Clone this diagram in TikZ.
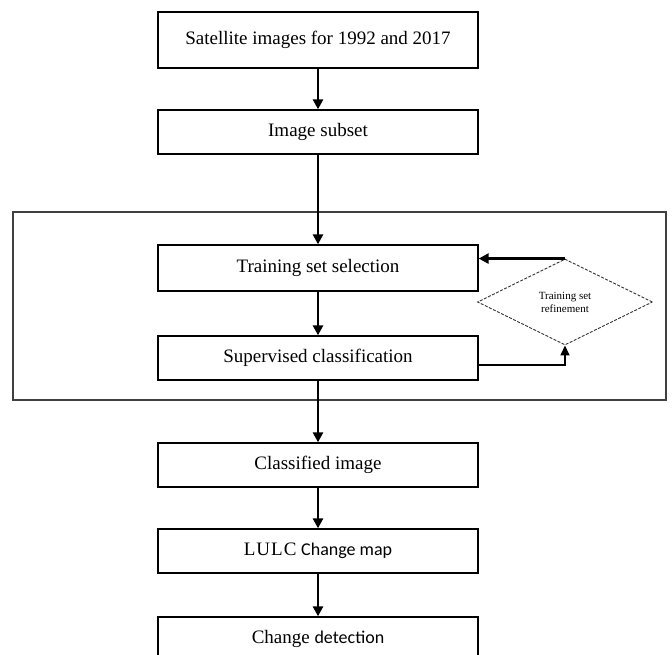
\documentclass[tikz,border=0pt]{standalone}
\usepackage{fontspec}
\setmainfont{Liberation Serif}
\newfontfamily\calibri{Carlito}
\usetikzlibrary{arrows.meta,shapes.geometric}
\tikzset{
  stepbox/.style={draw=black, line width=1.3pt, rectangle, minimum width=320pt, inner sep=0pt, font=\fontsize{19}{22}\selectfont},
  arr/.style={line width=2.5pt, -{Triangle[length=10pt,width=10pt]}},
  framebox/.style={draw=black!75, line width=1.4pt, rectangle, inner sep=0pt},
  decision/.style={diamond, draw=black!80, dashed, dash pattern=on 3pt off 1.5pt, line width=0.9pt, inner sep=0pt, minimum width=175pt, minimum height=86pt, align=center, font=\fontsize{11}{13}\selectfont}
}
\begin{document}
\begin{tikzpicture}[x=1pt,y=-1pt]
\useasboundingbox (0,0) rectangle (672,654);
\clip (0,0) rectangle (672,654);
\node[framebox, minimum width=653pt, minimum height=188pt] (frame) at (339.5,306) {};
\node[stepbox, minimum height=56pt] (sat) at (318,40) {Satellite images for 1992 and 2017};
\node[stepbox, minimum height=44pt] (sub) at (318,132) {Image subset};
\node[stepbox, minimum height=46pt] (tr) at (318,268) {Training set selection};
\node[stepbox, minimum height=44pt] (sup) at (318,358) {Supervised classification};
\node[stepbox, minimum height=44pt] (cls) at (318,465) {Classified image};
\node[stepbox, minimum height=44pt] (lulc) at (318,551) {L\kern1pt U\kern1pt L\kern1pt C {\calibri\fontsize{18}{20}\selectfont Change map}};
\node[stepbox, minimum height=44pt] (chg) at (318,639) {Change {\calibri\fontsize{18}{20}\selectfont detection}};
\node[decision] (ref) at (565,302) {Training set\\refinement};
\draw[arr] (sat) -- (sub);
\draw[arr] (sub) -- (tr);
\draw[arr] (tr) -- (sup);
\draw[arr] (sup) -- (cls);
\draw[arr] (cls) -- (lulc);
\draw[arr] (lulc) -- (chg);
\draw[arr] (ref.north) -- (ref.north -| tr.east);
\draw[line width=1.5pt, -{Triangle[length=10pt,width=9pt]}] ([yshift=-7pt]sup.east) -| (ref.south);
\end{tikzpicture}
\end{document}
